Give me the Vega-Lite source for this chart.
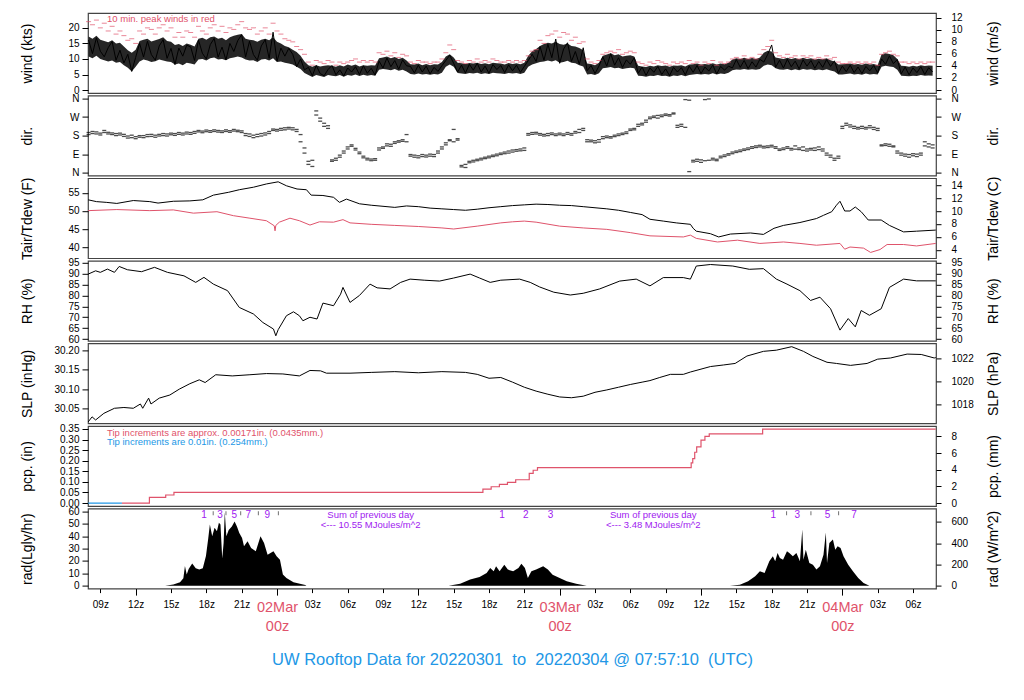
{
"$schema":"https://vega.github.io/schema/vega-lite/v6.json",
"padding":{"left":19,"top":11,"right":5,"bottom":5},
"background":"white",
"spacing":2.6,
"bounds":"flush",
"config":{
 "font":"Liberation Sans",
 "view":{"stroke":"#444","strokeWidth":1.2},
 "axis":{"grid":false,"domain":false,"labelFont":"Liberation Sans","titleFont":"Liberation Sans","labelFontSize":10,"titleFontSize":14,"titleFontWeight":"normal","labelColor":"black","tickColor":"black","titleColor":"black","labelOverlap":false,"labelFlush":false},
 "axisLeft":{"tickSize":6,"labelPadding":3,"titleX":-54,"titleAngle":-90,"titleBaseline":"bottom","titleAlign":"center"},
 "axisRight":{"tickSize":5,"labelPadding":10,"titleX":64,"titleAngle":-90,"titleBaseline":"bottom","titleAlign":"center","format":"d"},
 "text":{"font":"Liberation Sans"}
},
"datasets":{
"wind":[
{"t":"2022-03-01T08:00Z","w":16.1,"g":22,"d":195,"e":185,"l":10.8,"h":17.2},
{"t":"2022-03-01T08:20Z","w":11.7,"g":21,"d":190,"e":200,"l":10.2,"h":16.5},
{"t":"2022-03-01T08:40Z","w":16.8,"g":22.5,"d":198,"e":188,"l":11.0,"h":17.5},
{"t":"2022-03-01T09:00Z","w":12.5,"g":20,"d":192,"e":183,"l":10.0,"h":16.2},
{"t":"2022-03-01T09:20Z","w":10.7,"g":21.5,"d":195,"e":205,"l":9.6,"h":15.8},
{"t":"2022-03-01T09:40Z","w":13.6,"g":19,"d":188,"e":196,"l":9.2,"h":15.4},
{"t":"2022-03-01T10:00Z","w":15.6,"g":20.5,"d":185,"e":193,"l":9.5,"h":16.0},
{"t":"2022-03-01T10:20Z","w":9.6,"g":18,"d":190,"e":180,"l":8.8,"h":15.0},
{"t":"2022-03-01T10:40Z","w":12.8,"g":19,"d":183,"e":192,"l":9.0,"h":15.2},
{"t":"2022-03-01T11:00Z","w":8.7,"g":17.5,"d":186,"e":176,"l":8.0,"h":14.0},
{"t":"2022-03-01T11:20Z","w":11.5,"g":16,"d":178,"e":168,"l":7.2,"h":12.8},
{"t":"2022-03-01T11:40Z","w":6.0,"g":16.5,"d":170,"e":182,"l":6.0,"h":12.0},
{"t":"2022-03-01T12:00Z","w":10.5,"g":15,"d":165,"e":175,"l":7.5,"h":13.0},
{"t":"2022-03-01T12:20Z","w":15.0,"g":19,"d":172,"e":180,"l":9.2,"h":15.8},
{"t":"2022-03-01T12:40Z","w":10.6,"g":18,"d":180,"e":170,"l":9.8,"h":16.2},
{"t":"2022-03-01T13:00Z","w":15.7,"g":20,"d":185,"e":175,"l":9.5,"h":16.5},
{"t":"2022-03-01T13:20Z","w":11.4,"g":19.5,"d":176,"e":186,"l":9.0,"h":15.6},
{"t":"2022-03-01T13:40Z","w":9.6,"g":18,"d":182,"e":172,"l":9.3,"h":16.0},
{"t":"2022-03-01T14:00Z","w":14.2,"g":20,"d":186,"e":178,"l":9.8,"h":16.4},
{"t":"2022-03-01T14:20Z","w":16.2,"g":21,"d":180,"e":190,"l":9.5,"h":17.0},
{"t":"2022-03-01T14:40Z","w":10.2,"g":19,"d":188,"e":178,"l":9.2,"h":15.8},
{"t":"2022-03-01T15:00Z","w":13.4,"g":20,"d":184,"e":192,"l":9.0,"h":15.5},
{"t":"2022-03-01T15:20Z","w":8.2,"g":17,"d":190,"e":181,"l":8.2,"h":14.5},
{"t":"2022-03-01T15:40Z","w":13.5,"g":18.5,"d":186,"e":195,"l":8.5,"h":14.8},
{"t":"2022-03-01T16:00Z","w":10.9,"g":17,"d":192,"e":183,"l":8.0,"h":14.2},
{"t":"2022-03-01T16:20Z","w":14.4,"g":19,"d":188,"e":197,"l":8.8,"h":15.0},
{"t":"2022-03-01T16:40Z","w":13.9,"g":18.5,"d":195,"e":186,"l":8.5,"h":14.6},
{"t":"2022-03-01T17:00Z","w":9.5,"g":17,"d":191,"e":200,"l":8.2,"h":14.0},
{"t":"2022-03-01T17:20Z","w":16.1,"g":20.5,"d":198,"e":205,"l":9.8,"h":16.5},
{"t":"2022-03-01T17:40Z","w":11.8,"g":19,"d":202,"e":194,"l":10.0,"h":16.8},
{"t":"2022-03-01T18:00Z","w":10.0,"g":18,"d":199,"e":207,"l":9.5,"h":16.2},
{"t":"2022-03-01T18:20Z","w":14.6,"g":20,"d":204,"e":196,"l":10.2,"h":17.0},
{"t":"2022-03-01T18:40Z","w":16.6,"g":21,"d":200,"e":208,"l":10.5,"h":17.2},
{"t":"2022-03-01T19:00Z","w":10.6,"g":19,"d":197,"e":205,"l":9.8,"h":16.5},
{"t":"2022-03-01T19:20Z","w":13.8,"g":20.5,"d":203,"e":195,"l":10.0,"h":16.8},
{"t":"2022-03-01T19:40Z","w":9.7,"g":18.5,"d":200,"e":208,"l":9.6,"h":16.0},
{"t":"2022-03-01T20:00Z","w":15.0,"g":20,"d":196,"e":204,"l":10.2,"h":17.0},
{"t":"2022-03-01T20:20Z","w":12.4,"g":19.5,"d":202,"e":210,"l":10.5,"h":17.5},
{"t":"2022-03-01T20:40Z","w":15.9,"g":21,"d":199,"e":206,"l":10.8,"h":17.8},
{"t":"2022-03-01T21:00Z","w":17.8,"g":22,"d":203,"e":195,"l":10.5,"h":18.0},
{"t":"2022-03-01T21:20Z","w":10.6,"g":20,"d":190,"e":180,"l":9.8,"h":16.5},
{"t":"2022-03-01T21:40Z","w":15.7,"g":19.5,"d":176,"e":188,"l":9.5,"h":16.2},
{"t":"2022-03-01T22:00Z","w":11.4,"g":20,"d":182,"e":170,"l":9.6,"h":16.0},
{"t":"2022-03-01T22:20Z","w":9.6,"g":18,"d":186,"e":175,"l":9.0,"h":15.5},
{"t":"2022-03-01T22:40Z","w":14.2,"g":19,"d":178,"e":190,"l":9.8,"h":16.2},
{"t":"2022-03-01T23:00Z","w":16.2,"g":20,"d":193,"e":183,"l":10.0,"h":16.5},
{"t":"2022-03-01T23:20Z","w":10.2,"g":18,"d":200,"e":190,"l":9.5,"h":16.0},
{"t":"2022-03-01T23:40Z","w":18.6,"g":21.5,"d":205,"e":212,"l":10.2,"h":17.0},
{"t":"2022-03-02T00:00Z","w":9.3,"g":19,"d":210,"e":202,"l":9.0,"h":15.5},
{"t":"2022-03-02T00:20Z","w":13.5,"g":18,"d":215,"e":206,"l":9.2,"h":15.0},
{"t":"2022-03-02T00:40Z","w":10.9,"g":16.5,"d":208,"e":218,"l":8.8,"h":14.2},
{"t":"2022-03-02T01:00Z","w":13.4,"g":16,"d":212,"e":220,"l":8.5,"h":13.8},
{"t":"2022-03-02T01:20Z","w":11.5,"g":15.5,"d":218,"e":208,"l":8.2,"h":13.0},
{"t":"2022-03-02T01:40Z","w":7.5,"g":14,"d":210,"e":200,"l":7.5,"h":12.2},
{"t":"2022-03-02T02:00Z","w":10.0,"g":13,"d":185,"e":150,"l":6.8,"h":11.0},
{"t":"2022-03-02T02:20Z","w":6.5,"g":11.5,"d":120,"e":95,"l":5.5,"h":9.2},
{"t":"2022-03-02T02:40Z","w":7.3,"g":9,"d":55,"e":40,"l":4.8,"h":8.0},
{"t":"2022-03-02T03:00Z","w":4.6,"g":8,"d":30,"e":60,"l":4.2,"h":7.5},
{"t":"2022-03-02T03:20Z","w":7.9,"g":9.5,"d":300,"e":280,"l":4.8,"h":8.0},
{"t":"2022-03-02T03:40Z","w":5.3,"g":9,"d":250,"e":265,"l":4.5,"h":7.6},
{"t":"2022-03-02T04:00Z","w":4.6,"g":8.5,"d":225,"e":240,"l":4.2,"h":7.8},
{"t":"2022-03-02T04:20Z","w":6.6,"g":9.5,"d":215,"e":228,"l":4.8,"h":8.0},
{"t":"2022-03-02T04:40Z","w":7.9,"g":9,"d":62,"e":55,"l":4.6,"h":7.8},
{"t":"2022-03-02T05:00Z","w":4.9,"g":8,"d":70,"e":60,"l":4.4,"h":7.5},
{"t":"2022-03-02T05:20Z","w":6.5,"g":9,"d":85,"e":75,"l":4.8,"h":8.0},
{"t":"2022-03-02T05:40Z","w":4.5,"g":8.5,"d":105,"e":95,"l":4.3,"h":7.6},
{"t":"2022-03-02T06:00Z","w":7.1,"g":9,"d":125,"e":115,"l":4.8,"h":8.2},
{"t":"2022-03-02T06:20Z","w":5.8,"g":9.5,"d":135,"e":128,"l":4.6,"h":7.8},
{"t":"2022-03-02T06:40Z","w":7.5,"g":10,"d":118,"e":110,"l":5.0,"h":8.2},
{"t":"2022-03-02T07:00Z","w":5.0,"g":9,"d":100,"e":92,"l":4.5,"h":7.6},
{"t":"2022-03-02T07:20Z","w":7.8,"g":9.5,"d":80,"e":72,"l":4.9,"h":8.0},
{"t":"2022-03-02T07:40Z","w":5.4,"g":9,"d":62,"e":70,"l":4.6,"h":7.8},
{"t":"2022-03-02T08:00Z","w":7.0,"g":9.5,"d":58,"e":66,"l":4.8,"h":8.0},
{"t":"2022-03-02T08:20Z","w":4.8,"g":9,"d":60,"e":68,"l":4.6,"h":7.9},
{"t":"2022-03-02T08:40Z","w":9.3,"g":12,"d":110,"e":120,"l":6.5,"h":10.2},
{"t":"2022-03-02T09:00Z","w":7.1,"g":11.5,"d":125,"e":118,"l":6.8,"h":10.5},
{"t":"2022-03-02T09:20Z","w":10.3,"g":12.5,"d":130,"e":140,"l":6.6,"h":10.8},
{"t":"2022-03-02T09:40Z","w":7.5,"g":11,"d":138,"e":128,"l":6.4,"h":10.2},
{"t":"2022-03-02T10:00Z","w":9.5,"g":12,"d":142,"e":150,"l":6.8,"h":10.6},
{"t":"2022-03-02T10:20Z","w":6.7,"g":10.5,"d":148,"e":155,"l":6.2,"h":10.0},
{"t":"2022-03-02T10:40Z","w":9.7,"g":11.5,"d":152,"e":160,"l":6.5,"h":10.4},
{"t":"2022-03-02T11:00Z","w":7.8,"g":11,"d":185,"e":150,"l":6.0,"h":9.5},
{"t":"2022-03-02T11:20Z","w":7.6,"g":9,"d":80,"e":88,"l":5.2,"h":8.3},
{"t":"2022-03-02T11:40Z","w":5.5,"g":8.5,"d":75,"e":85,"l":5.0,"h":8.2},
{"t":"2022-03-02T12:00Z","w":8.0,"g":9.5,"d":82,"e":72,"l":5.3,"h":8.5},
{"t":"2022-03-02T12:20Z","w":5.8,"g":9,"d":78,"e":88,"l":5.0,"h":8.0},
{"t":"2022-03-02T12:40Z","w":7.7,"g":9,"d":85,"e":76,"l":5.2,"h":8.4},
{"t":"2022-03-02T13:00Z","w":5.2,"g":8.5,"d":80,"e":90,"l":4.9,"h":8.0},
{"t":"2022-03-02T13:20Z","w":7.3,"g":9,"d":88,"e":78,"l":5.2,"h":8.3},
{"t":"2022-03-02T13:40Z","w":6.0,"g":9,"d":95,"e":105,"l":5.0,"h":8.2},
{"t":"2022-03-02T14:00Z","w":7.8,"g":10,"d":115,"e":125,"l":5.6,"h":9.0},
{"t":"2022-03-02T14:20Z","w":9.5,"g":12,"d":135,"e":145,"l":7.5,"h":10.8},
{"t":"2022-03-02T14:40Z","w":11.2,"g":14.5,"d":155,"e":160,"l":8.2,"h":11.5},
{"t":"2022-03-02T15:00Z","w":8.6,"g":13,"d":150,"e":210,"l":7.5,"h":10.5},
{"t":"2022-03-02T15:20Z","w":5.8,"g":9.5,"d":158,"e":165,"l":5.5,"h":8.8},
{"t":"2022-03-02T15:40Z","w":8.0,"g":9,"d":35,"e":28,"l":5.3,"h":8.6},
{"t":"2022-03-02T16:00Z","w":5.5,"g":8.5,"d":40,"e":25,"l":5.2,"h":8.4},
{"t":"2022-03-02T16:20Z","w":8.3,"g":9.5,"d":55,"e":48,"l":5.5,"h":8.7},
{"t":"2022-03-02T16:40Z","w":6.4,"g":9,"d":60,"e":52,"l":5.3,"h":8.5},
{"t":"2022-03-02T17:00Z","w":8.6,"g":10,"d":65,"e":58,"l":5.6,"h":8.8},
{"t":"2022-03-02T17:20Z","w":5.8,"g":9,"d":70,"e":62,"l":5.2,"h":8.4},
{"t":"2022-03-02T17:40Z","w":7.7,"g":9.5,"d":75,"e":68,"l":5.4,"h":8.6},
{"t":"2022-03-02T18:00Z","w":5.4,"g":9,"d":80,"e":72,"l":5.2,"h":8.3},
{"t":"2022-03-02T18:20Z","w":8.2,"g":10,"d":85,"e":78,"l":5.6,"h":8.8},
{"t":"2022-03-02T18:40Z","w":6.6,"g":9.5,"d":90,"e":82,"l":5.4,"h":8.6},
{"t":"2022-03-02T19:00Z","w":7.9,"g":9,"d":95,"e":88,"l":5.3,"h":8.5},
{"t":"2022-03-02T19:20Z","w":5.6,"g":9,"d":100,"e":92,"l":5.2,"h":8.2},
{"t":"2022-03-02T19:40Z","w":8.1,"g":9.5,"d":105,"e":95,"l":5.5,"h":8.7},
{"t":"2022-03-02T20:00Z","w":6.2,"g":9,"d":110,"e":100,"l":5.3,"h":8.4},
{"t":"2022-03-02T20:20Z","w":8.0,"g":9.5,"d":112,"e":104,"l":5.5,"h":8.6},
{"t":"2022-03-02T20:40Z","w":5.7,"g":9,"d":115,"e":106,"l":5.2,"h":8.3},
{"t":"2022-03-02T21:00Z","w":7.6,"g":9.5,"d":120,"e":108,"l":5.6,"h":8.8},
{"t":"2022-03-02T21:20Z","w":9.5,"g":11,"d":190,"e":182,"l":7.5,"h":11.0},
{"t":"2022-03-02T21:40Z","w":11.5,"g":12.5,"d":195,"e":186,"l":8.2,"h":12.5},
{"t":"2022-03-02T22:00Z","w":9.2,"g":13,"d":188,"e":196,"l":8.6,"h":13.2},
{"t":"2022-03-02T22:20Z","w":14.0,"g":16,"d":182,"e":190,"l":9.0,"h":14.2},
{"t":"2022-03-02T22:40Z","w":9.6,"g":15,"d":186,"e":178,"l":9.2,"h":14.8},
{"t":"2022-03-02T23:00Z","w":14.7,"g":17.5,"d":180,"e":190,"l":9.5,"h":15.2},
{"t":"2022-03-02T23:20Z","w":10.4,"g":18,"d":185,"e":193,"l":9.2,"h":15.0},
{"t":"2022-03-02T23:40Z","w":16.4,"g":19,"d":188,"e":180,"l":9.6,"h":15.5},
{"t":"2022-03-03T00:00Z","w":8.6,"g":17,"d":184,"e":192,"l":8.8,"h":14.8},
{"t":"2022-03-03T00:20Z","w":13.2,"g":18.5,"d":180,"e":188,"l":9.0,"h":14.6},
{"t":"2022-03-03T00:40Z","w":15.2,"g":18,"d":186,"e":195,"l":9.4,"h":15.0},
{"t":"2022-03-03T01:00Z","w":9.2,"g":16,"d":190,"e":182,"l":8.8,"h":14.2},
{"t":"2022-03-03T01:20Z","w":12.4,"g":17,"d":200,"e":192,"l":8.6,"h":14.0},
{"t":"2022-03-03T01:40Z","w":8.3,"g":15,"d":195,"e":210,"l":8.0,"h":13.5},
{"t":"2022-03-03T02:00Z","w":13.6,"g":15.5,"d":205,"e":215,"l":7.6,"h":12.8},
{"t":"2022-03-03T02:20Z","w":6.2,"g":10,"d":160,"e":150,"l":5.0,"h":8.5},
{"t":"2022-03-03T02:40Z","w":7.9,"g":9,"d":150,"e":158,"l":5.2,"h":8.4},
{"t":"2022-03-03T03:00Z","w":5.3,"g":8.5,"d":155,"e":145,"l":4.8,"h":8.0},
{"t":"2022-03-03T03:20Z","w":7.7,"g":9.5,"d":148,"e":160,"l":5.4,"h":8.8},
{"t":"2022-03-03T03:40Z","w":10.7,"g":11.5,"d":165,"e":175,"l":7.0,"h":11.0},
{"t":"2022-03-03T04:00Z","w":7.7,"g":12,"d":170,"e":178,"l":7.2,"h":11.4},
{"t":"2022-03-03T04:20Z","w":11.7,"g":12.5,"d":175,"e":168,"l":7.4,"h":11.8},
{"t":"2022-03-03T04:40Z","w":8.0,"g":12,"d":182,"e":175,"l":7.0,"h":11.2},
{"t":"2022-03-03T05:00Z","w":10.4,"g":13,"d":188,"e":180,"l":7.2,"h":11.5},
{"t":"2022-03-03T05:20Z","w":7.3,"g":11.5,"d":192,"e":185,"l":6.8,"h":10.8},
{"t":"2022-03-03T05:40Z","w":9.7,"g":12,"d":198,"e":190,"l":7.0,"h":11.0},
{"t":"2022-03-03T06:00Z","w":8.3,"g":12.5,"d":205,"e":212,"l":7.2,"h":11.2},
{"t":"2022-03-03T06:20Z","w":10.4,"g":12,"d":215,"e":208,"l":7.0,"h":10.8},
{"t":"2022-03-03T06:40Z","w":5.4,"g":9,"d":225,"e":235,"l":4.6,"h":7.8},
{"t":"2022-03-03T07:00Z","w":7.4,"g":8.5,"d":240,"e":232,"l":4.5,"h":7.6},
{"t":"2022-03-03T07:20Z","w":4.7,"g":8,"d":255,"e":245,"l":4.3,"h":7.4},
{"t":"2022-03-03T07:40Z","w":7.1,"g":9,"d":262,"e":270,"l":4.6,"h":7.8},
{"t":"2022-03-03T08:00Z","w":5.7,"g":8.5,"d":268,"e":275,"l":4.5,"h":7.6},
{"t":"2022-03-03T08:20Z","w":7.6,"g":9.5,"d":265,"e":278,"l":4.8,"h":8.0},
{"t":"2022-03-03T08:40Z","w":5.0,"g":9,"d":272,"e":280,"l":4.5,"h":7.7},
{"t":"2022-03-03T09:00Z","w":6.8,"g":8.5,"d":278,"e":285,"l":4.6,"h":7.9},
{"t":"2022-03-03T09:20Z","w":4.6,"g":8,"d":282,"e":275,"l":4.3,"h":7.5},
{"t":"2022-03-03T09:40Z","w":7.3,"g":9,"d":285,"e":290,"l":4.7,"h":7.9},
{"t":"2022-03-03T10:00Z","w":5.8,"g":8.5,"d":230,"e":220,"l":4.5,"h":7.8},
{"t":"2022-03-03T10:20Z","w":7.2,"g":9,"d":225,"e":235,"l":4.8,"h":8.0},
{"t":"2022-03-03T10:40Z","w":4.9,"g":8.5,"d":355,"e":220,"l":4.4,"h":7.6},
{"t":"2022-03-03T11:00Z","w":7.7,"g":9.5,"d":352,"e":5,"l":4.8,"h":8.2},
{"t":"2022-03-03T11:20Z","w":5.7,"g":8.5,"d":60,"e":52,"l":5.0,"h":8.3},
{"t":"2022-03-03T11:40Z","w":7.9,"g":9,"d":55,"e":65,"l":5.2,"h":8.5},
{"t":"2022-03-03T12:00Z","w":5.3,"g":8,"d":62,"e":50,"l":5.0,"h":8.2},
{"t":"2022-03-03T12:20Z","w":7.4,"g":9,"d":58,"e":355,"l":5.2,"h":8.4},
{"t":"2022-03-03T12:40Z","w":6.1,"g":8.5,"d":358,"e":60,"l":5.0,"h":8.2},
{"t":"2022-03-03T13:00Z","w":8.0,"g":9.5,"d":62,"e":70,"l":5.4,"h":8.6},
{"t":"2022-03-03T13:20Z","w":5.2,"g":8,"d":65,"e":58,"l":5.0,"h":8.2},
{"t":"2022-03-03T13:40Z","w":7.6,"g":9,"d":72,"e":80,"l":5.3,"h":8.5},
{"t":"2022-03-03T14:00Z","w":6.4,"g":8.5,"d":78,"e":86,"l":5.2,"h":8.3},
{"t":"2022-03-03T14:20Z","w":7.7,"g":9,"d":85,"e":92,"l":5.6,"h":8.8},
{"t":"2022-03-03T14:40Z","w":7.1,"g":10,"d":92,"e":100,"l":6.4,"h":9.8},
{"t":"2022-03-03T15:00Z","w":9.8,"g":10.5,"d":98,"e":105,"l":6.6,"h":10.2},
{"t":"2022-03-03T15:20Z","w":7.3,"g":10,"d":102,"e":110,"l":6.5,"h":10.0},
{"t":"2022-03-03T15:40Z","w":9.5,"g":11,"d":108,"e":115,"l":6.8,"h":10.4},
{"t":"2022-03-03T16:00Z","w":6.9,"g":10,"d":112,"e":120,"l":6.5,"h":10.0},
{"t":"2022-03-03T16:20Z","w":9.1,"g":10.5,"d":118,"e":126,"l":6.7,"h":10.3},
{"t":"2022-03-03T16:40Z","w":7.4,"g":10,"d":122,"e":130,"l":6.5,"h":10.0},
{"t":"2022-03-03T17:00Z","w":9.9,"g":11.5,"d":125,"e":133,"l":6.8,"h":10.5},
{"t":"2022-03-03T17:20Z","w":9.0,"g":13,"d":128,"e":120,"l":7.8,"h":12.0},
{"t":"2022-03-03T17:40Z","w":11.5,"g":14,"d":130,"e":122,"l":8.2,"h":12.6},
{"t":"2022-03-03T18:00Z","w":14.5,"g":16,"d":125,"e":133,"l":8.0,"h":12.4},
{"t":"2022-03-03T18:20Z","w":7.3,"g":12,"d":118,"e":126,"l":7.0,"h":10.5},
{"t":"2022-03-03T18:40Z","w":9.6,"g":11,"d":115,"e":108,"l":6.6,"h":10.2},
{"t":"2022-03-03T19:00Z","w":7.1,"g":10.5,"d":120,"e":112,"l":6.5,"h":10.0},
{"t":"2022-03-03T19:20Z","w":9.9,"g":11.5,"d":118,"e":126,"l":6.8,"h":10.4},
{"t":"2022-03-03T19:40Z","w":7.5,"g":10.5,"d":110,"e":118,"l":6.4,"h":10.0},
{"t":"2022-03-03T20:00Z","w":9.3,"g":11,"d":114,"e":130,"l":6.7,"h":10.3},
{"t":"2022-03-03T20:20Z","w":6.8,"g":10,"d":120,"e":112,"l":6.4,"h":9.9},
{"t":"2022-03-03T20:40Z","w":9.7,"g":11,"d":125,"e":108,"l":6.8,"h":10.4},
{"t":"2022-03-03T21:00Z","w":7.7,"g":10.5,"d":115,"e":105,"l":6.5,"h":10.0},
{"t":"2022-03-03T21:20Z","w":9.5,"g":11,"d":118,"e":110,"l":6.7,"h":10.2},
{"t":"2022-03-03T21:40Z","w":7.0,"g":10,"d":108,"e":120,"l":6.4,"h":9.8},
{"t":"2022-03-03T22:00Z","w":9.2,"g":10.5,"d":112,"e":125,"l":6.6,"h":10.1},
{"t":"2022-03-03T22:20Z","w":7.3,"g":10,"d":105,"e":115,"l":6.4,"h":9.9},
{"t":"2022-03-03T22:40Z","w":9.8,"g":11,"d":95,"e":85,"l":6.7,"h":10.2},
{"t":"2022-03-03T23:00Z","w":7.6,"g":10,"d":75,"e":85,"l":6.3,"h":9.6},
{"t":"2022-03-03T23:20Z","w":9.4,"g":10.5,"d":70,"e":60,"l":6.0,"h":9.2},
{"t":"2022-03-03T23:40Z","w":5.4,"g":9,"d":80,"e":70,"l":5.0,"h":8.2},
{"t":"2022-03-04T00:00Z","w":7.7,"g":8.5,"d":225,"e":215,"l":5.0,"h":8.3},
{"t":"2022-03-04T00:20Z","w":5.9,"g":8.5,"d":230,"e":240,"l":5.2,"h":8.4},
{"t":"2022-03-04T00:40Z","w":8.0,"g":9,"d":222,"e":232,"l":5.3,"h":8.5},
{"t":"2022-03-04T01:00Z","w":5.6,"g":8.5,"d":215,"e":225,"l":5.0,"h":8.2},
{"t":"2022-03-04T01:20Z","w":7.4,"g":9,"d":220,"e":212,"l":5.2,"h":8.4},
{"t":"2022-03-04T01:40Z","w":5.3,"g":8.5,"d":215,"e":225,"l":4.9,"h":8.1},
{"t":"2022-03-04T02:00Z","w":7.6,"g":9,"d":212,"e":220,"l":5.3,"h":8.5},
{"t":"2022-03-04T02:20Z","w":6.2,"g":8.5,"d":218,"e":228,"l":5.0,"h":8.2},
{"t":"2022-03-04T02:40Z","w":7.9,"g":9,"d":210,"e":220,"l":5.2,"h":8.4},
{"t":"2022-03-04T03:00Z","w":5.5,"g":8,"d":215,"e":205,"l":5.0,"h":8.0},
{"t":"2022-03-04T03:20Z","w":10.0,"g":11.5,"d":135,"e":130,"l":7.5,"h":11.5},
{"t":"2022-03-04T03:40Z","w":8.3,"g":12,"d":132,"e":140,"l":7.8,"h":11.8},
{"t":"2022-03-04T04:00Z","w":11.0,"g":12.5,"d":128,"e":138,"l":7.6,"h":11.6},
{"t":"2022-03-04T04:20Z","w":8.5,"g":11.5,"d":130,"e":125,"l":7.4,"h":11.2},
{"t":"2022-03-04T04:40Z","w":9.8,"g":11,"d":95,"e":105,"l":6.5,"h":10.0},
{"t":"2022-03-04T05:00Z","w":5.2,"g":9,"d":85,"e":95,"l":4.6,"h":7.8},
{"t":"2022-03-04T05:20Z","w":7.4,"g":9,"d":80,"e":90,"l":4.5,"h":7.7},
{"t":"2022-03-04T05:40Z","w":4.9,"g":8.5,"d":75,"e":88,"l":4.4,"h":7.5},
{"t":"2022-03-04T06:00Z","w":7.1,"g":9,"d":82,"e":92,"l":4.6,"h":7.8},
{"t":"2022-03-04T06:20Z","w":5.6,"g":8.5,"d":78,"e":90,"l":4.5,"h":7.6},
{"t":"2022-03-04T06:40Z","w":7.5,"g":9,"d":95,"e":85,"l":4.8,"h":8.0},
{"t":"2022-03-04T07:00Z","w":5.0,"g":8.5,"d":130,"e":150,"l":4.6,"h":7.7},
{"t":"2022-03-04T07:20Z","w":7.2,"g":9,"d":140,"e":125,"l":4.7,"h":7.9},
{"t":"2022-03-04T07:40Z","w":5.8,"g":9,"d":120,"e":135,"l":4.6,"h":7.8}
],
"tair":[
{"t":"2022-03-01T07:58Z","v":53.1},{"t":"2022-03-01T08:40Z","v":52.6},{"t":"2022-03-01T09:30Z","v":52.4},{"t":"2022-03-01T10:24Z","v":52.1},{"t":"2022-03-01T11:48Z","v":52.9},{"t":"2022-03-01T13:12Z","v":52.6},{"t":"2022-03-01T13:54Z","v":52.2},{"t":"2022-03-01T15:12Z","v":52.7},{"t":"2022-03-01T16:36Z","v":52.8},{"t":"2022-03-01T17:42Z","v":53.1},{"t":"2022-03-01T18:36Z","v":54.4},{"t":"2022-03-01T19:54Z","v":55.2},{"t":"2022-03-01T20:48Z","v":55.9},{"t":"2022-03-01T22:00Z","v":56.6},{"t":"2022-03-01T23:06Z","v":57.5},{"t":"2022-03-02T00:06Z","v":58.1},{"t":"2022-03-02T00:48Z","v":57.0},{"t":"2022-03-02T01:42Z","v":56.1},{"t":"2022-03-02T02:30Z","v":55.9},{"t":"2022-03-02T02:54Z","v":54.4},{"t":"2022-03-02T03:54Z","v":54.3},{"t":"2022-03-02T04:48Z","v":53.8},{"t":"2022-03-02T05:18Z","v":52.4},{"t":"2022-03-02T05:54Z","v":53.3},{"t":"2022-03-02T07:00Z","v":52.0},{"t":"2022-03-02T08:00Z","v":51.6},{"t":"2022-03-02T09:00Z","v":51.3},{"t":"2022-03-02T10:00Z","v":51.0},{"t":"2022-03-02T11:00Z","v":51.4},{"t":"2022-03-02T12:00Z","v":51.2},{"t":"2022-03-02T13:00Z","v":50.8},{"t":"2022-03-02T14:00Z","v":50.6},{"t":"2022-03-02T15:00Z","v":50.4},{"t":"2022-03-02T16:00Z","v":50.2},{"t":"2022-03-02T17:00Z","v":50.5},{"t":"2022-03-02T18:00Z","v":50.9},{"t":"2022-03-02T19:00Z","v":51.2},{"t":"2022-03-02T20:00Z","v":51.5},{"t":"2022-03-02T21:00Z","v":51.7},{"t":"2022-03-02T22:00Z","v":51.9},{"t":"2022-03-02T23:00Z","v":51.8},{"t":"2022-03-03T00:00Z","v":51.6},{"t":"2022-03-03T01:00Z","v":51.5},{"t":"2022-03-03T02:00Z","v":51.2},{"t":"2022-03-03T03:00Z","v":50.9},{"t":"2022-03-03T04:00Z","v":50.6},{"t":"2022-03-03T05:00Z","v":50.2},{"t":"2022-03-03T06:00Z","v":49.6},{"t":"2022-03-03T07:00Z","v":49.0},{"t":"2022-03-03T07:40Z","v":47.7},{"t":"2022-03-03T08:48Z","v":47.2},{"t":"2022-03-03T09:54Z","v":46.7},{"t":"2022-03-03T11:06Z","v":46.3},{"t":"2022-03-03T11:20Z","v":45.2},{"t":"2022-03-03T11:36Z","v":44.4},{"t":"2022-03-03T12:48Z","v":43.7},{"t":"2022-03-03T13:30Z","v":42.8},{"t":"2022-03-03T14:30Z","v":43.6},{"t":"2022-03-03T16:12Z","v":43.9},{"t":"2022-03-03T17:18Z","v":43.5},{"t":"2022-03-03T18:12Z","v":45.2},{"t":"2022-03-03T19:00Z","v":46.0},{"t":"2022-03-03T20:24Z","v":46.8},{"t":"2022-03-03T21:48Z","v":47.9},{"t":"2022-03-03T22:24Z","v":48.8},{"t":"2022-03-03T23:06Z","v":49.8},{"t":"2022-03-03T23:30Z","v":51.6},{"t":"2022-03-03T23:48Z","v":52.7},{"t":"2022-03-04T00:12Z","v":50.0},{"t":"2022-03-04T00:39Z","v":50.0},{"t":"2022-03-04T01:06Z","v":51.1},{"t":"2022-03-04T01:36Z","v":49.8},{"t":"2022-03-04T02:12Z","v":47.5},{"t":"2022-03-04T03:18Z","v":47.5},{"t":"2022-03-04T04:00Z","v":46.0},{"t":"2022-03-04T05:12Z","v":44.2},{"t":"2022-03-04T06:18Z","v":44.4},{"t":"2022-03-04T07:56Z","v":44.7}
],
"tdew":[
{"t":"2022-03-01T07:58Z","v":50.1},{"t":"2022-03-01T10:24Z","v":50.4},{"t":"2022-03-01T13:12Z","v":50.1},{"t":"2022-03-01T15:12Z","v":50.3},{"t":"2022-03-01T16:54Z","v":49.4},{"t":"2022-03-01T18:54Z","v":49.8},{"t":"2022-03-01T20:18Z","v":48.7},{"t":"2022-03-01T21:42Z","v":48.0},{"t":"2022-03-01T23:06Z","v":47.3},{"t":"2022-03-01T23:46Z","v":45.9},{"t":"2022-03-01T23:50Z","v":44.5},{"t":"2022-03-01T23:54Z","v":46.0},{"t":"2022-03-02T00:12Z","v":46.9},{"t":"2022-03-02T01:06Z","v":48.0},{"t":"2022-03-02T01:54Z","v":47.3},{"t":"2022-03-02T02:48Z","v":46.1},{"t":"2022-03-02T03:36Z","v":47.0},{"t":"2022-03-02T04:48Z","v":46.9},{"t":"2022-03-02T05:36Z","v":47.6},{"t":"2022-03-02T06:12Z","v":46.7},{"t":"2022-03-02T08:00Z","v":46.3},{"t":"2022-03-02T10:00Z","v":46.0},{"t":"2022-03-02T12:00Z","v":45.7},{"t":"2022-03-02T14:00Z","v":45.3},{"t":"2022-03-02T15:00Z","v":45.0},{"t":"2022-03-02T17:00Z","v":45.8},{"t":"2022-03-02T19:00Z","v":46.7},{"t":"2022-03-02T20:00Z","v":47.0},{"t":"2022-03-02T21:00Z","v":47.2},{"t":"2022-03-02T22:00Z","v":46.9},{"t":"2022-03-03T00:00Z","v":45.8},{"t":"2022-03-03T02:00Z","v":45.3},{"t":"2022-03-03T04:00Z","v":44.9},{"t":"2022-03-03T06:00Z","v":44.0},{"t":"2022-03-03T07:40Z","v":43.1},{"t":"2022-03-03T10:30Z","v":42.8},{"t":"2022-03-03T11:06Z","v":43.3},{"t":"2022-03-03T11:36Z","v":42.4},{"t":"2022-03-03T13:24Z","v":41.4},{"t":"2022-03-03T15:06Z","v":41.9},{"t":"2022-03-03T17:00Z","v":41.0},{"t":"2022-03-03T19:00Z","v":41.4},{"t":"2022-03-03T20:24Z","v":41.0},{"t":"2022-03-03T21:48Z","v":40.5},{"t":"2022-03-03T23:48Z","v":41.0},{"t":"2022-03-04T00:12Z","v":39.4},{"t":"2022-03-04T00:39Z","v":40.0},{"t":"2022-03-04T01:48Z","v":39.7},{"t":"2022-03-04T02:24Z","v":38.5},{"t":"2022-03-04T03:12Z","v":39.3},{"t":"2022-03-04T03:48Z","v":40.7},{"t":"2022-03-04T05:12Z","v":40.7},{"t":"2022-03-04T06:18Z","v":40.3},{"t":"2022-03-04T07:56Z","v":41.0}
],
"rh":[
{"t":"2022-03-01T07:58Z","v":89.8},{"t":"2022-03-01T08:36Z","v":91.3},{"t":"2022-03-01T09:00Z","v":90.6},{"t":"2022-03-01T09:36Z","v":92.1},{"t":"2022-03-01T10:12Z","v":90.6},{"t":"2022-03-01T10:36Z","v":93.3},{"t":"2022-03-01T11:18Z","v":91.8},{"t":"2022-03-01T12:30Z","v":90.9},{"t":"2022-03-01T13:36Z","v":92.9},{"t":"2022-03-01T14:42Z","v":90.6},{"t":"2022-03-01T16:06Z","v":89.0},{"t":"2022-03-01T17:06Z","v":86.0},{"t":"2022-03-01T17:48Z","v":88.3},{"t":"2022-03-01T18:36Z","v":85.2},{"t":"2022-03-01T19:48Z","v":82.2},{"t":"2022-03-01T20:48Z","v":74.5},{"t":"2022-03-01T22:00Z","v":71.5},{"t":"2022-03-01T22:48Z","v":67.6},{"t":"2022-03-01T23:42Z","v":64.6},{"t":"2022-03-01T23:54Z","v":61.5},{"t":"2022-03-02T00:06Z","v":64.3},{"t":"2022-03-02T00:48Z","v":70.7},{"t":"2022-03-02T01:24Z","v":72.5},{"t":"2022-03-02T01:54Z","v":70.7},{"t":"2022-03-02T02:12Z","v":68.4},{"t":"2022-03-02T02:48Z","v":70.0},{"t":"2022-03-02T03:24Z","v":69.2},{"t":"2022-03-02T03:54Z","v":76.5},{"t":"2022-03-02T04:48Z","v":75.3},{"t":"2022-03-02T05:24Z","v":80.6},{"t":"2022-03-02T05:36Z","v":83.7},{"t":"2022-03-02T06:12Z","v":76.8},{"t":"2022-03-02T07:00Z","v":80.0},{"t":"2022-03-02T07:54Z","v":85.2},{"t":"2022-03-02T08:30Z","v":83.5},{"t":"2022-03-02T09:36Z","v":83.0},{"t":"2022-03-02T10:30Z","v":86.0},{"t":"2022-03-02T11:18Z","v":87.5},{"t":"2022-03-02T12:30Z","v":87.0},{"t":"2022-03-02T13:48Z","v":86.6},{"t":"2022-03-02T15:00Z","v":88.0},{"t":"2022-03-02T16:24Z","v":89.8},{"t":"2022-03-02T17:12Z","v":88.0},{"t":"2022-03-02T18:06Z","v":86.0},{"t":"2022-03-02T19:00Z","v":87.0},{"t":"2022-03-02T20:36Z","v":87.5},{"t":"2022-03-02T21:30Z","v":86.0},{"t":"2022-03-02T22:18Z","v":83.9},{"t":"2022-03-02T23:30Z","v":81.5},{"t":"2022-03-03T00:54Z","v":80.2},{"t":"2022-03-03T02:00Z","v":81.0},{"t":"2022-03-03T03:24Z","v":83.0},{"t":"2022-03-03T05:06Z","v":86.6},{"t":"2022-03-03T06:30Z","v":87.5},{"t":"2022-03-03T07:40Z","v":84.4},{"t":"2022-03-03T08:48Z","v":88.2},{"t":"2022-03-03T10:30Z","v":88.2},{"t":"2022-03-03T11:06Z","v":87.5},{"t":"2022-03-03T11:36Z","v":93.5},{"t":"2022-03-03T12:48Z","v":94.2},{"t":"2022-03-03T14:42Z","v":93.5},{"t":"2022-03-03T16:06Z","v":92.0},{"t":"2022-03-03T17:18Z","v":92.3},{"t":"2022-03-03T18:24Z","v":87.5},{"t":"2022-03-03T19:18Z","v":85.2},{"t":"2022-03-03T20:24Z","v":82.2},{"t":"2022-03-03T21:18Z","v":77.7},{"t":"2022-03-03T22:06Z","v":79.2},{"t":"2022-03-03T23:00Z","v":73.9},{"t":"2022-03-03T23:48Z","v":64.1},{"t":"2022-03-04T00:30Z","v":69.4},{"t":"2022-03-04T01:06Z","v":65.6},{"t":"2022-03-04T01:36Z","v":73.1},{"t":"2022-03-04T02:18Z","v":70.9},{"t":"2022-03-04T03:18Z","v":73.9},{"t":"2022-03-04T04:00Z","v":83.7},{"t":"2022-03-04T05:12Z","v":87.5},{"t":"2022-03-04T06:18Z","v":86.7},{"t":"2022-03-04T07:56Z","v":86.7}
],
"slp":[
{"t":"2022-03-01T07:58Z","v":30.016},{"t":"2022-03-01T08:18Z","v":30.029},{"t":"2022-03-01T08:36Z","v":30.021},{"t":"2022-03-01T09:18Z","v":30.038},{"t":"2022-03-01T10:12Z","v":30.051},{"t":"2022-03-01T11:00Z","v":30.053},{"t":"2022-03-01T11:48Z","v":30.051},{"t":"2022-03-01T12:24Z","v":30.062},{"t":"2022-03-01T12:36Z","v":30.051},{"t":"2022-03-01T13:06Z","v":30.077},{"t":"2022-03-01T13:18Z","v":30.062},{"t":"2022-03-01T14:00Z","v":30.077},{"t":"2022-03-01T14:54Z","v":30.085},{"t":"2022-03-01T15:42Z","v":30.100},{"t":"2022-03-01T16:36Z","v":30.114},{"t":"2022-03-01T17:24Z","v":30.124},{"t":"2022-03-01T17:54Z","v":30.117},{"t":"2022-03-01T18:48Z","v":30.137},{"t":"2022-03-01T20:12Z","v":30.134},{"t":"2022-03-01T21:42Z","v":30.137},{"t":"2022-03-01T23:06Z","v":30.140},{"t":"2022-03-02T00:30Z","v":30.139},{"t":"2022-03-02T01:54Z","v":30.134},{"t":"2022-03-02T02:48Z","v":30.148},{"t":"2022-03-02T03:42Z","v":30.147},{"t":"2022-03-02T04:12Z","v":30.141},{"t":"2022-03-02T06:12Z","v":30.141},{"t":"2022-03-02T08:00Z","v":30.143},{"t":"2022-03-02T10:00Z","v":30.145},{"t":"2022-03-02T12:00Z","v":30.142},{"t":"2022-03-02T14:00Z","v":30.145},{"t":"2022-03-02T16:00Z","v":30.143},{"t":"2022-03-02T17:00Z","v":30.138},{"t":"2022-03-02T18:00Z","v":30.128},{"t":"2022-03-02T19:00Z","v":30.130},{"t":"2022-03-02T20:00Z","v":30.118},{"t":"2022-03-02T21:00Z","v":30.105},{"t":"2022-03-02T22:00Z","v":30.095},{"t":"2022-03-02T23:00Z","v":30.087},{"t":"2022-03-03T00:00Z","v":30.080},{"t":"2022-03-03T01:00Z","v":30.078},{"t":"2022-03-03T02:00Z","v":30.082},{"t":"2022-03-03T03:00Z","v":30.092},{"t":"2022-03-03T04:00Z","v":30.098},{"t":"2022-03-03T05:00Z","v":30.105},{"t":"2022-03-03T06:00Z","v":30.112},{"t":"2022-03-03T07:00Z","v":30.118},{"t":"2022-03-03T07:40Z","v":30.122},{"t":"2022-03-03T08:30Z","v":30.130},{"t":"2022-03-03T09:24Z","v":30.138},{"t":"2022-03-03T10:30Z","v":30.138},{"t":"2022-03-03T11:06Z","v":30.144},{"t":"2022-03-03T12:48Z","v":30.158},{"t":"2022-03-03T13:54Z","v":30.162},{"t":"2022-03-03T14:54Z","v":30.166},{"t":"2022-03-03T15:54Z","v":30.185},{"t":"2022-03-03T17:18Z","v":30.197},{"t":"2022-03-03T18:24Z","v":30.200},{"t":"2022-03-03T19:42Z","v":30.209},{"t":"2022-03-03T20:42Z","v":30.197},{"t":"2022-03-03T21:30Z","v":30.184},{"t":"2022-03-03T22:42Z","v":30.169},{"t":"2022-03-03T23:30Z","v":30.166},{"t":"2022-03-04T00:42Z","v":30.161},{"t":"2022-03-04T02:06Z","v":30.166},{"t":"2022-03-04T03:00Z","v":30.177},{"t":"2022-03-04T04:06Z","v":30.180},{"t":"2022-03-04T05:30Z","v":30.190},{"t":"2022-03-04T06:42Z","v":30.189},{"t":"2022-03-04T07:48Z","v":30.180},{"t":"2022-03-04T07:56Z","v":30.181}
],
"pcp":[
{"t":"2022-03-01T07:58Z","p":0,"s":"b"},{"t":"2022-03-01T10:50Z","p":0,"s":"b"},
{"t":"2022-03-01T10:50Z","p":0,"s":"r"},{"t":"2022-03-01T13:10Z","p":0.027,"s":"r"},{"t":"2022-03-01T14:33Z","p":0.038,"s":"r"},{"t":"2022-03-01T15:15Z","p":0.05,"s":"r"},{"t":"2022-03-02T17:29Z","p":0.066,"s":"r"},{"t":"2022-03-02T18:11Z","p":0.077,"s":"r"},{"t":"2022-03-02T18:53Z","p":0.088,"s":"r"},{"t":"2022-03-02T19:34Z","p":0.098,"s":"r"},{"t":"2022-03-02T20:16Z","p":0.11,"s":"r"},{"t":"2022-03-02T21:25Z","p":0.14,"s":"r"},{"t":"2022-03-02T21:45Z","p":0.155,"s":"r"},{"t":"2022-03-02T22:07Z","p":0.167,"s":"r"},{"t":"2022-03-03T11:10Z","p":0.19,"s":"r"},{"t":"2022-03-03T11:18Z","p":0.21,"s":"r"},{"t":"2022-03-03T11:28Z","p":0.24,"s":"r"},{"t":"2022-03-03T11:38Z","p":0.265,"s":"r"},{"t":"2022-03-03T12:00Z","p":0.297,"s":"r"},{"t":"2022-03-03T12:20Z","p":0.315,"s":"r"},{"t":"2022-03-03T12:42Z","p":0.327,"s":"r"},{"t":"2022-03-03T17:14Z","p":0.349,"s":"r"},{"t":"2022-03-04T07:56Z","p":0.349,"s":"r"}
],
"rad":[
{"t":"2022-03-01T14:30Z","r":0},{"t":"2022-03-01T15:12Z","r":1},{"t":"2022-03-01T15:46Z","r":2.7},{"t":"2022-03-01T16:03Z","r":6},{"t":"2022-03-01T16:11Z","r":16},{"t":"2022-03-01T16:20Z","r":9},{"t":"2022-03-01T16:30Z","r":13.5},{"t":"2022-03-01T16:48Z","r":18},{"t":"2022-03-01T17:06Z","r":14},{"t":"2022-03-01T17:24Z","r":13},{"t":"2022-03-01T17:42Z","r":14},{"t":"2022-03-01T17:58Z","r":24},{"t":"2022-03-01T18:10Z","r":38.6},{"t":"2022-03-01T18:18Z","r":49.5},{"t":"2022-03-01T18:30Z","r":40},{"t":"2022-03-01T18:42Z","r":46.8},{"t":"2022-03-01T18:54Z","r":44},{"t":"2022-03-01T19:04Z","r":51},{"t":"2022-03-01T19:12Z","r":49.5},{"t":"2022-03-01T19:21Z","r":22},{"t":"2022-03-01T19:28Z","r":34.6},{"t":"2022-03-01T19:34Z","r":59.5},{"t":"2022-03-01T19:42Z","r":40},{"t":"2022-03-01T19:54Z","r":45},{"t":"2022-03-01T20:10Z","r":48},{"t":"2022-03-01T20:24Z","r":52},{"t":"2022-03-01T20:36Z","r":48},{"t":"2022-03-01T20:48Z","r":42.7},{"t":"2022-03-01T21:02Z","r":38.6},{"t":"2022-03-01T21:12Z","r":32},{"t":"2022-03-01T21:30Z","r":36},{"t":"2022-03-01T21:48Z","r":30.5},{"t":"2022-03-01T22:12Z","r":27.8},{"t":"2022-03-01T22:36Z","r":40},{"t":"2022-03-01T22:54Z","r":34.6},{"t":"2022-03-01T23:12Z","r":25},{"t":"2022-03-01T23:42Z","r":27.8},{"t":"2022-03-01T23:58Z","r":23.8},{"t":"2022-03-02T00:15Z","r":21},{"t":"2022-03-02T00:30Z","r":9},{"t":"2022-03-02T00:48Z","r":6.2},{"t":"2022-03-02T01:24Z","r":2.7},{"t":"2022-03-02T02:24Z","r":0.5},{"t":"2022-03-02T02:30Z","r":0},
{"t":"2022-03-02T14:34Z","r":0},{"t":"2022-03-02T15:33Z","r":1.6},{"t":"2022-03-02T16:24Z","r":4.9},{"t":"2022-03-02T17:12Z","r":7},{"t":"2022-03-02T17:48Z","r":10.3},{"t":"2022-03-02T18:06Z","r":14.3},{"t":"2022-03-02T18:24Z","r":11.6},{"t":"2022-03-02T18:36Z","r":15.7},{"t":"2022-03-02T18:54Z","r":11.6},{"t":"2022-03-02T19:18Z","r":17},{"t":"2022-03-02T19:36Z","r":13},{"t":"2022-03-02T20:03Z","r":11.6},{"t":"2022-03-02T20:30Z","r":14.3},{"t":"2022-03-02T20:45Z","r":17.8},{"t":"2022-03-02T21:03Z","r":14.3},{"t":"2022-03-02T21:18Z","r":6.2},{"t":"2022-03-02T21:36Z","r":11.6},{"t":"2022-03-02T22:00Z","r":13},{"t":"2022-03-02T22:36Z","r":15.7},{"t":"2022-03-02T23:00Z","r":13},{"t":"2022-03-02T23:24Z","r":8.9},{"t":"2022-03-03T00:00Z","r":6.2},{"t":"2022-03-03T00:36Z","r":3.5},{"t":"2022-03-03T01:24Z","r":1.6},{"t":"2022-03-03T02:18Z","r":0},
{"t":"2022-03-03T14:27Z","r":0},{"t":"2022-03-03T15:18Z","r":0.8},{"t":"2022-03-03T16:00Z","r":3.5},{"t":"2022-03-03T16:36Z","r":7.6},{"t":"2022-03-03T17:00Z","r":11.6},{"t":"2022-03-03T17:24Z","r":10.3},{"t":"2022-03-03T17:48Z","r":19.7},{"t":"2022-03-03T18:06Z","r":23.8},{"t":"2022-03-03T18:18Z","r":19.7},{"t":"2022-03-03T18:30Z","r":26.5},{"t":"2022-03-03T18:42Z","r":22.4},{"t":"2022-03-03T18:58Z","r":21},{"t":"2022-03-03T19:18Z","r":27.8},{"t":"2022-03-03T19:30Z","r":26.5},{"t":"2022-03-03T19:48Z","r":23.8},{"t":"2022-03-03T20:06Z","r":26.5},{"t":"2022-03-03T20:24Z","r":19.7},{"t":"2022-03-03T20:36Z","r":45.4},{"t":"2022-03-03T20:42Z","r":21},{"t":"2022-03-03T20:54Z","r":29},{"t":"2022-03-03T21:12Z","r":18.4},{"t":"2022-03-03T21:30Z","r":17},{"t":"2022-03-03T21:48Z","r":13},{"t":"2022-03-03T22:06Z","r":15.7},{"t":"2022-03-03T22:24Z","r":25},{"t":"2022-03-03T22:36Z","r":43},{"t":"2022-03-03T22:42Z","r":18.4},{"t":"2022-03-03T22:54Z","r":34.6},{"t":"2022-03-03T23:12Z","r":37.3},{"t":"2022-03-03T23:24Z","r":29},{"t":"2022-03-03T23:36Z","r":32},{"t":"2022-03-03T23:51Z","r":30.5},{"t":"2022-03-04T00:06Z","r":23.8},{"t":"2022-03-04T00:30Z","r":17},{"t":"2022-03-04T00:54Z","r":11.6},{"t":"2022-03-04T01:21Z","r":6.2},{"t":"2022-03-04T01:48Z","r":2.2},{"t":"2022-03-04T02:18Z","r":0}
],
"cum":[
{"t":"2022-03-01T17:48Z","n":"1"},{"t":"2022-03-01T19:10Z","n":"3"},{"t":"2022-03-01T20:22Z","n":"5"},{"t":"2022-03-01T21:34Z","n":"7"},{"t":"2022-03-01T23:11Z","n":"9"},
{"t":"2022-03-02T19:07Z","n":"1"},{"t":"2022-03-02T21:07Z","n":"2"},{"t":"2022-03-02T23:14Z","n":"3"},
{"t":"2022-03-03T18:08Z","n":"1"},{"t":"2022-03-03T20:10Z","n":"3"},{"t":"2022-03-03T22:45Z","n":"5"},{"t":"2022-03-04T01:00Z","n":"7"}
],
"cumt":[
{"t":"2022-03-01T18:35Z"},{"t":"2022-03-01T19:40Z"},{"t":"2022-03-01T20:55Z"},{"t":"2022-03-01T22:25Z"},{"t":"2022-03-02T00:07Z"},
{"t":"2022-03-03T19:16Z"},{"t":"2022-03-03T21:20Z"},{"t":"2022-03-03T23:41Z"}
],
"sums":[
{"t":"2022-03-02T07:57Z","a":"Sum of previous day","b":"<--- 10.55 MJoules/m^2"},
{"t":"2022-03-03T07:57Z","a":"Sum of previous day","b":"<--- 3.48 MJoules/m^2"}
],
"notes":[
{"t":"2022-03-01T09:34Z","wn":"10 min. peak winds in red","pa":"Tip increments are approx. 0.00171in. (0.0435mm.)","pb":"Tip increments are 0.01in. (0.254mm.)"}
]
},
"vconcat":[
{
 "width":848,"height":80,
 "encoding":{"x":{"field":"t","type":"temporal","scale":{"type":"utc","nice":false,"domain":[{"year":2022,"month":3,"date":1,"hours":7,"minutes":57,"seconds":10,"utc":true},{"year":2022,"month":3,"date":4,"hours":7,"minutes":57,"seconds":10,"utc":true}]},"axis":null}},
 "layer":[
  {"data":{"name":"wind"},"mark":{"type":"area","color":"black","opacity":0.85,"interpolate":"linear"},
   "encoding":{"y":{"field":"l","type":"quantitative","scale":{"domain":[-0.95,24.78],"nice":false,"zero":false},"axis":{"orient":"left","values":[0,5,10,15,20],"title":"wind (kts)"}},"y2":{"field":"h"}}},
  {"data":{"name":"wind"},"mark":{"type":"line","color":"black","strokeWidth":1},
   "encoding":{"y":{"field":"w","type":"quantitative","scale":{"domain":[-0.95,24.78],"nice":false,"zero":false},"axis":null}}},
  {"data":{"name":"wind"},"mark":{"type":"tick","orient":"horizontal","color":"#DF536B","size":5,"thickness":1},
   "encoding":{"y":{"field":"g","type":"quantitative","scale":{"domain":[-0.95,24.78],"nice":false,"zero":false},"axis":null}}},
  {"data":{"name":"notes"},"mark":{"type":"text","align":"left","baseline":"middle","fontSize":9.5,"color":"#DF536B"},
   "encoding":{"text":{"field":"wn"},"y":{"datum":22.8,"type":"quantitative","scale":{"domain":[-0.95,24.78],"nice":false,"zero":false},"axis":null}}},
  {"data":{"name":"wind"},"mark":{"type":"point","opacity":0,"clip":true},
   "encoding":{"y":{"field":"w","type":"quantitative","scale":{"domain":[-0.489,12.748],"nice":false,"zero":false},"axis":{"orient":"right","values":[0,2,4,6,8,10,12],"title":"wind (m/s)"}}}}
 ],
 "resolve":{"scale":{"y":"independent"}}
},
{
 "width":848,"height":80,
 "encoding":{"x":{"field":"t","type":"temporal","scale":{"type":"utc","nice":false,"domain":[{"year":2022,"month":3,"date":1,"hours":7,"minutes":57,"seconds":10,"utc":true},{"year":2022,"month":3,"date":4,"hours":7,"minutes":57,"seconds":10,"utc":true}]},"axis":null}},
 "layer":[
  {"data":{"name":"wind"},"mark":{"type":"tick","orient":"horizontal","color":"black","size":4,"thickness":1.3},
   "encoding":{"y":{"field":"d","type":"quantitative","scale":{"domain":[-14.4,374.4],"nice":false,"zero":false},"axis":{"orient":"left","values":[0,90,180,270,360],"labelExpr":"datum.value==90?'E':datum.value==180?'S':datum.value==270?'W':'N'","title":"dir."}}}},
  {"data":{"name":"wind"},"mark":{"type":"tick","orient":"horizontal","color":"black","size":4,"thickness":1.3},
   "encoding":{"y":{"field":"e","type":"quantitative","scale":{"domain":[-14.4,374.4],"nice":false,"zero":false},"axis":{"orient":"right","values":[0,90,180,270,360],"labelExpr":"datum.value==90?'E':datum.value==180?'S':datum.value==270?'W':'N'","title":"dir."}}}}
 ],
 "resolve":{"scale":{"y":"independent"}}
},
{
 "width":848,"height":80,
 "encoding":{"x":{"field":"t","type":"temporal","scale":{"type":"utc","nice":false,"domain":[{"year":2022,"month":3,"date":1,"hours":7,"minutes":57,"seconds":10,"utc":true},{"year":2022,"month":3,"date":4,"hours":7,"minutes":57,"seconds":10,"utc":true}]},"axis":null}},
 "layer":[
  {"data":{"name":"tair"},"mark":{"type":"line","color":"black","strokeWidth":1},
   "encoding":{"y":{"field":"v","type":"quantitative","scale":{"domain":[36.9,59.1],"nice":false,"zero":false},"axis":{"orient":"left","values":[40,45,50,55],"title":"Tair/Tdew (F)"}}}},
  {"data":{"name":"tdew"},"mark":{"type":"line","color":"#DF536B","strokeWidth":1},
   "encoding":{"y":{"field":"v","type":"quantitative","scale":{"domain":[36.9,59.1],"nice":false,"zero":false},"axis":null}}},
  {"data":{"name":"tair"},"mark":{"type":"point","opacity":0,"clip":true},
   "encoding":{"y":{"field":"v","type":"quantitative","scale":{"domain":[2.72,15.06],"nice":false,"zero":false},"axis":{"orient":"right","values":[4,6,8,10,12,14],"title":"Tair/Tdew (C)"}}}}
 ],
 "resolve":{"scale":{"y":"independent"}}
},
{
 "width":848,"height":80,
 "encoding":{"x":{"field":"t","type":"temporal","scale":{"type":"utc","nice":false,"domain":[{"year":2022,"month":3,"date":1,"hours":7,"minutes":57,"seconds":10,"utc":true},{"year":2022,"month":3,"date":4,"hours":7,"minutes":57,"seconds":10,"utc":true}]},"axis":null}},
 "layer":[
  {"data":{"name":"rh"},"mark":{"type":"line","color":"black","strokeWidth":1},
   "encoding":{"y":{"field":"v","type":"quantitative","scale":{"domain":[59.2,95.9],"nice":false,"zero":false},"axis":{"orient":"left","values":[60,65,70,75,80,85,90,95],"title":"RH (%)"}}}},
  {"data":{"name":"rh"},"mark":{"type":"point","opacity":0,"clip":true},
   "encoding":{"y":{"field":"v","type":"quantitative","scale":{"domain":[59.2,95.9],"nice":false,"zero":false},"axis":{"orient":"right","values":[60,65,70,75,80,85,90,95],"title":"RH (%)"}}}}
 ],
 "resolve":{"scale":{"y":"independent"}}
},
{
 "width":848,"height":80,
 "encoding":{"x":{"field":"t","type":"temporal","scale":{"type":"utc","nice":false,"domain":[{"year":2022,"month":3,"date":1,"hours":7,"minutes":57,"seconds":10,"utc":true},{"year":2022,"month":3,"date":4,"hours":7,"minutes":57,"seconds":10,"utc":true}]},"axis":null}},
 "layer":[
  {"data":{"name":"slp"},"mark":{"type":"line","color":"black","strokeWidth":1},
   "encoding":{"y":{"field":"v","type":"quantitative","scale":{"domain":[30.0122,30.2174],"nice":false,"zero":false},"axis":{"orient":"left","values":[30.05,30.1,30.15,30.2],"format":".2f","title":"SLP (inHg)"}}}},
  {"data":{"name":"slp"},"mark":{"type":"point","opacity":0,"clip":true},
   "encoding":{"y":{"field":"v","type":"quantitative","scale":{"domain":[1016.35,1023.29],"nice":false,"zero":false},"axis":{"orient":"right","values":[1018,1020,1022],"format":"d","title":"SLP (hPa)"}}}}
 ],
 "resolve":{"scale":{"y":"independent"}}
},
{
 "width":848,"height":80,
 "encoding":{"x":{"field":"t","type":"temporal","scale":{"type":"utc","nice":false,"domain":[{"year":2022,"month":3,"date":1,"hours":7,"minutes":57,"seconds":10,"utc":true},{"year":2022,"month":3,"date":4,"hours":7,"minutes":57,"seconds":10,"utc":true}]},"axis":null}},
 "layer":[
  {"data":{"name":"pcp"},"mark":{"type":"line","interpolate":"step-after","strokeWidth":1.2},
   "encoding":{"y":{"field":"p","type":"quantitative","scale":{"domain":[-0.014,0.364],"nice":false,"zero":false},"axis":{"orient":"left","values":[0,0.05,0.1,0.15,0.2,0.25,0.3,0.35],"format":".2f","title":"pcp. (in)"}},
    "color":{"field":"s","type":"nominal","scale":{"domain":["b","r"],"range":["#2297E6","#DF536B"]},"legend":null}}},
  {"data":{"name":"notes"},"mark":{"type":"text","align":"left","baseline":"middle","fontSize":9.5,"color":"#DF536B"},
   "encoding":{"text":{"field":"pa"},"y":{"datum":0.331,"type":"quantitative","scale":{"domain":[-0.014,0.364],"nice":false,"zero":false},"axis":null}}},
  {"data":{"name":"notes"},"mark":{"type":"text","align":"left","baseline":"middle","fontSize":9.5,"color":"#2297E6"},
   "encoding":{"text":{"field":"pb"},"y":{"datum":0.289,"type":"quantitative","scale":{"domain":[-0.014,0.364],"nice":false,"zero":false},"axis":null}}},
  {"data":{"name":"pcp"},"mark":{"type":"point","opacity":0,"clip":true},
   "encoding":{"y":{"field":"p","type":"quantitative","scale":{"domain":[-0.356,9.246],"nice":false,"zero":false},"axis":{"orient":"right","values":[0,2,4,6,8],"title":"pcp. (mm)"}}}}
 ],
 "resolve":{"scale":{"y":"independent"}}
},
{
 "width":848,"height":80,
 "layer":[
  {"data":{"name":"rad"},"mark":{"type":"area","color":"black","interpolate":"linear"},
   "encoding":{
    "x":{"field":"t","type":"temporal","scale":{"type":"utc","nice":false,"domain":[{"year":2022,"month":3,"date":1,"hours":7,"minutes":57,"seconds":10,"utc":true},{"year":2022,"month":3,"date":4,"hours":7,"minutes":57,"seconds":10,"utc":true}]},
     "axis":{"orient":"bottom","values":[1646125200000,1646136000000,1646146800000,1646157600000,1646168400000,1646179200000,1646190000000,1646200800000,1646211600000,1646222400000,1646233200000,1646244000000,1646254800000,1646265600000,1646276400000,1646287200000,1646298000000,1646308800000,1646319600000,1646330400000,1646341200000,1646352000000,1646362800000,1646373600000],
      "format":"%Hz","labelExpr":"datum.label=='00z' ? '' : datum.label","tickSize":4,"labelPadding":7,"labelBaseline":"top","labelFontSize":10,"labelOverlap":false,"labelFlush":false,"title":null}},
    "y":{"field":"r","type":"quantitative","scale":{"domain":[-2.4,62.4],"nice":false,"zero":false},"axis":{"orient":"left","values":[0,10,20,30,40,50,60],"title":"rad(Lgly/hr)"}}}},
  {"data":{"name":"cum"},"mark":{"type":"text","align":"center","baseline":"middle","fontSize":10,"color":"#A020F0"},
   "encoding":{"x":{"field":"t","type":"temporal","axis":{"orient":"bottom","values":[1646136000000,1646179200000,1646222400000,1646265600000,1646308800000,1646352000000],"labels":false,"tickSize":6.5,"title":null}},"text":{"field":"n"},"y":{"datum":57.6,"type":"quantitative","scale":{"domain":[-2.4,62.4],"nice":false,"zero":false},"axis":null}}},
  {"data":{"name":"cumt"},"mark":{"type":"tick","orient":"vertical","color":"#333","size":4,"thickness":1},
   "encoding":{"x":{"field":"t","type":"temporal","axis":{"orient":"bottom","values":[1646179200000,1646265600000,1646352000000],"format":"%d%b","ticks":false,"tickSize":0,"labelPadding":12,"labelColor":"#DF536B","labelFontSize":14.5,"labelBaseline":"top","labelOverlap":false,"labelFlush":false,"title":null}},"y":{"datum":58.6,"type":"quantitative","scale":{"domain":[-2.4,62.4],"nice":false,"zero":false},"axis":null}}},
  {"data":{"name":"sums"},"mark":{"type":"text","align":"center","baseline":"middle","fontSize":9.5,"color":"#A020F0"},
   "encoding":{"x":{"field":"t","type":"temporal","axis":{"orient":"bottom","values":[1646179200000,1646265600000,1646352000000],"format":"%Hz","ticks":false,"tickSize":0,"labelPadding":31,"labelColor":"#DF536B","labelFontSize":14.5,"labelBaseline":"top","labelOverlap":false,"labelFlush":false,
     "title":"UW Rooftop Data for 20220301\u00a0 to\u00a0 20220304 @ 07:57:10\u00a0 (UTC)","titleColor":"#2297E6","titleFontSize":16.5,"titlePadding":18,"titleFontWeight":"normal"}},"text":{"field":"a"},"y":{"datum":57.6,"type":"quantitative","scale":{"domain":[-2.4,62.4],"nice":false,"zero":false},"axis":null}}},
  {"data":{"name":"sums"},"mark":{"type":"text","align":"center","baseline":"middle","fontSize":9.5,"color":"#A020F0"},
   "encoding":{"x":{"field":"t","type":"temporal","axis":null},"text":{"field":"b"},"y":{"datum":49.5,"type":"quantitative","scale":{"domain":[-2.4,62.4],"nice":false,"zero":false},"axis":null}}},
  {"data":{"name":"rad"},"mark":{"type":"point","opacity":0,"clip":true},
   "encoding":{"x":{"field":"t","type":"temporal","axis":null},"y":{"field":"r","type":"quantitative","scale":{"domain":[-27.9,725.2],"nice":false,"zero":false},"axis":{"orient":"right","values":[0,200,400,600],"title":"rad (W/m^2)"}}}}
 ],
 "resolve":{"scale":{"y":"independent"},"axis":{"x":"independent"}}
}
]
}
